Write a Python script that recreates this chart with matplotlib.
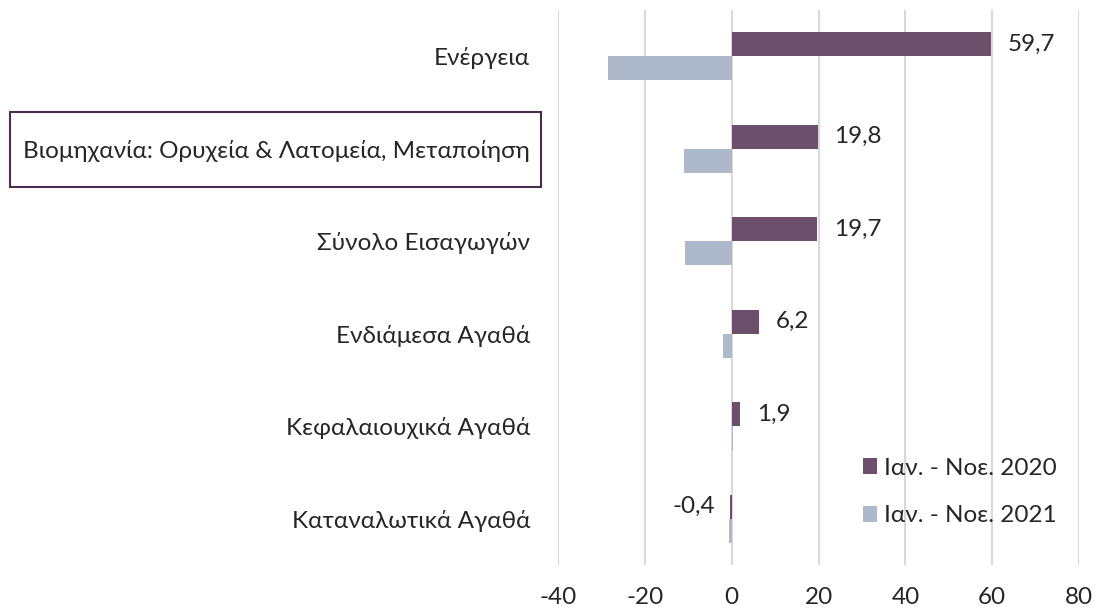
import matplotlib.pyplot as plt
import matplotlib.patches as mpatches
import numpy as np

plt.rcParams['font.family'] = ['Lato', 'DejaVu Sans']

categories = ['Ενέργεια',
              'Βιομηχανία: Ορυχεία & Λατομεία, Μεταποίηση',
              'Σύνολο Εισαγωγών',
              'Ενδιάμεσα Αγαθά',
              'Κεφαλαιουχικά Αγαθά',
              'Καταναλωτικά Αγαθά']
series_2020 = [59.7, 19.8, 19.7, 6.2, 1.9, -0.4]
series_2021 = [-28.5, -11.0, -10.8, -2.0, 0.3, -0.6]
labels = ['Ιαν. - Νοε. 2020', 'Ιαν. - Νοε. 2021']
xticks = [-40, -20, 0, 20, 40, 60, 80]

dark = '#6b4f6b'
light = '#adb9cb'
txtc = '#262626'
fs = 17.5

fig = plt.figure(figsize=(10.97, 6.12), dpi=100)
ax = fig.add_axes([0.5087, 0.0768, 0.4749, 0.907])

y = np.arange(len(categories))
h = 0.26
b1 = ax.barh(y - h / 2, series_2020, height=h, color=dark, label=labels[0], zorder=3)
b2 = ax.barh(y + h / 2, series_2021, height=h, color=light, label=labels[1], zorder=3)

# value labels only for the first series, decimal comma
for rect, v in zip(b1, series_2020):
    cy = rect.get_y() + rect.get_height() / 2
    txt = f'{v:.1f}'.replace('.', ',')
    if v >= 0:
        ax.annotate(txt, (v, cy), xytext=(12, 0), textcoords='offset points',
                    ha='left', va='center', fontsize=fs, color=txtc)
    else:
        ax.annotate(txt, (v, cy), xytext=(-11, 0), textcoords='offset points',
                    ha='right', va='center', fontsize=fs, color=txtc)

ax.set_xlim(-40, 80)
ax.set_ylim(len(categories) - 0.5, -0.5)
ax.set_xticks(xticks)
ax.set_xticklabels([str(t) for t in xticks], fontsize=fs, color=txtc)
ax.set_yticks(y)
ax.set_yticklabels(categories, fontsize=fs, color=txtc)
ax.tick_params(axis='both', length=0)
ax.tick_params(axis='x', pad=16)
ax.tick_params(axis='y', pad=20)
ax.grid(axis='x', color='#d9d9d9', linewidth=1.5, zorder=0)
for s in ax.spines.values():
    s.set_visible(False)

# framed label for the industry row
box = mpatches.Rectangle((10 / 1097, 1 - 187 / 612), 531 / 1097, 75 / 612,
                         transform=fig.transFigure, fill=False,
                         edgecolor='#4a2d4a', linewidth=1.5)
fig.patches.append(box)

ax.legend(loc='lower right', bbox_to_anchor=(1.0, 0.03), frameon=False,
          fontsize=fs, handlelength=0.6, handleheight=0.6, handletextpad=0.3,
          labelspacing=1.1, labelcolor=txtc)

fig.savefig('out.png', dpi=100)
